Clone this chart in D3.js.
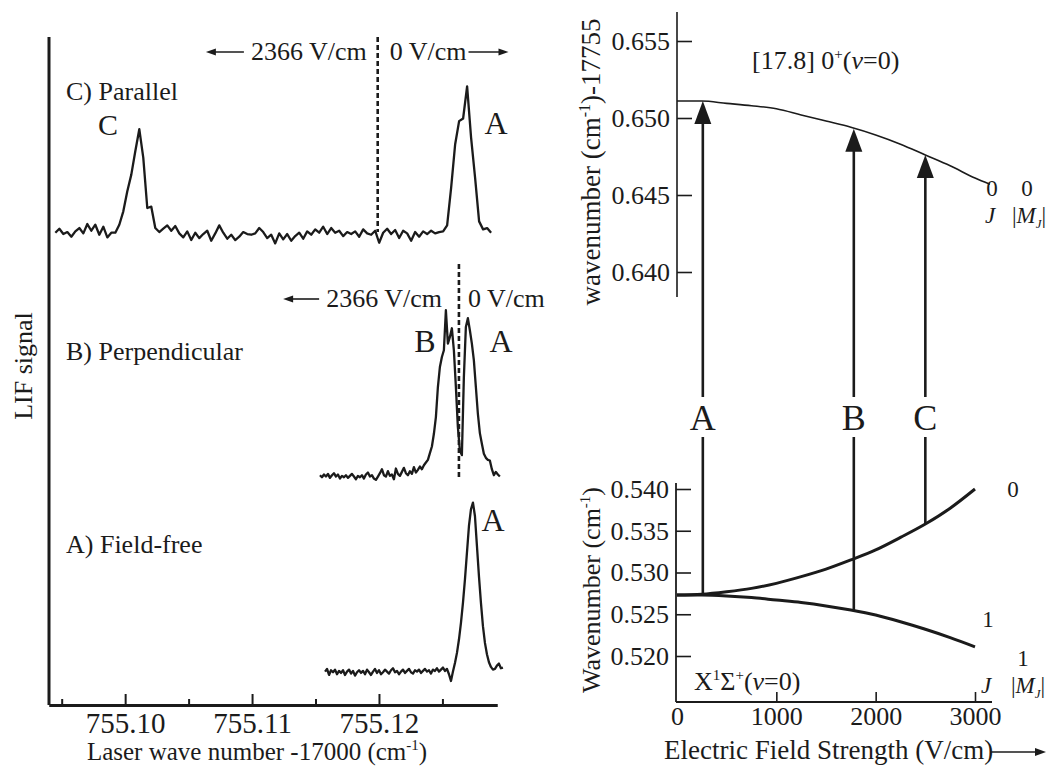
<!DOCTYPE html>
<html><head><meta charset="utf-8">
<script src="https://cdn.jsdelivr.net/npm/d3@7"></script>
<style>
html,body{margin:0;padding:0;background:#fff;}
svg{display:block;}
text{font-family:"Liberation Serif","Times New Roman",serif;fill:#1b1b1b;}
</style></head><body>
<svg id="fig" width="1049" height="769"></svg>
<script>
// ---------- LIF spectra (laser wave number - 17000 cm^-1) ----------
const specMajorTicks = [755.10, 755.11, 755.12];
const specMinorTicks = [755.095, 755.105, 755.115, 755.125];
const specTickLabels = ["755.10", "755.11", "755.12"];

// C) parallel field: scan start, scan step, signal above baseline
const parallelStart = 755.0945, parallelStep = 0.000315, parallelBase = 70.4;
const parallelSignal = [
  0.3, 0.9, 0.1, 0.4, -0.3, 0.5, 1.0, 0.2, 1.6, 0.6, 1.5, 0.0, 1.2, -0.4, 0.3,
  0.3, 1.5, 3.5, 6.5, 9.0, 12.5, 15.8, 11.5, 4.0, 4.2, 1.0, 0.4,
  0.9, 1.4, 0.6, 1.3, 0.2, -0.4, 0.5, -0.8, 0.3, -0.5,
  0.1, 0.6, -0.9, 0.2, 1.4, 0.3, -0.6, 0.0, -0.8, -0.3,
  0.4, 0.1, 0.0, 0.2, 1.0, 0.4, -0.5, 0.0, -1.3, 0.2,
  -0.7, 0.1, -0.9, -0.2, 0.3, -0.6, 0.5, 0.0, 0.8, 0.3,
  1.2, 0.1, 1.0, 0.3, 0.6, -0.2, 0.4, 0.1, 0.5, -0.3,
  0.8, 0.2, 0.0, 0.6, -1.2, 0.3, 0.9, 0.1, 0.7, -0.5,
  0.6, 0.2, -0.9, 0.4, -0.3, 0.5, 0.1, 0.6, 0.2,
  0.4, 0.5, 1.4, 7.0, 13.5, 17.0, 17.4, 22.2, 14.5, 8.5, 2.0, 0.8, 1.0, 0.3
];

// B) perpendicular field
const perpStart = 755.11535, perpStep = 0.0001575, perpBase = 34.1;
const perpSignal = [
  0.3, 0.0, 0.4, 0.1, 0.5, -0.1, 0.3, 0.6, 0.1, 0.4,
  -0.2, 0.2, 0.0, 0.3, -0.1, 0.2, 0.5, 0.1, -0.3, 0.2,
  0.0, 0.3, -0.2, 0.4, 0.7, 0.1, 0.3, -0.2, -0.4, 0.1,
  0.6, 1.2, 0.3, 0.1, 0.9, 0.2, 0.4, -0.3, 1.3, 0.5,
  0.2, 0.8, 1.4, 0.6, 0.3, 0.9, 0.5, 1.5, 0.7, 1.1,
  1.6, 1.2, 1.8,
  2.2, 2.6, 3.6, 4.6, 6.5, 9.0, 13.5, 16.5, 18.0, 19.0,
  25.0, 20.0, 21.0, 22.3, 19.0, 13.5, 7.5, 4.0, 3.3, 15.0,
  22.5, 23.8, 22.0, 20.0, 17.5, 13.5, 9.5, 6.6, 5.0, 3.5,
  2.9, 2.6, 2.5, 1.2, 0.3, 0.8, 0.4, 0.1
];

// A) field-free
const freeStart = 755.11575, freeStep = 0.0001575, freeBase = 4.8;
const freeSignal = [
  0.2, 0.6, -0.3, 0.4, 0.1, 0.5, -0.2, 0.3, 0.0, 0.4,
  -0.3, 0.2, 0.5, -0.1, 0.3, -0.4, 0.1, 0.4, 0.0, 0.3,
  -0.2, 0.5, 0.1, -0.3, 0.2, 0.6, 0.0, 0.4, -0.2, 0.1,
  0.5, 0.2, -0.1, 0.4, 0.7, 0.1, 0.3, -0.2, 0.2, 0.5,
  0.0, 0.3, 0.6, 0.1, -0.1, 0.4, 0.2, 0.5, 0.0, 0.3,
  0.6, 0.2, 0.4, -0.1, 0.5, 0.3, 0.7, 0.2, 0.5, 0.8,
  0.3, 0.6, -0.2, -1.2,
  0.2, 1.5, 3.0, 5.0, 7.5, 10.5, 14.0, 18.0, 22.0, 24.5,
  25.5, 23.5, 19.0, 14.5, 10.5, 7.0, 4.5, 2.8, 1.6, 0.9,
  0.5, 0.6, 1.1, 1.4, 0.7, 0.8
];

// field boundaries (2366 V/cm | 0 V/cm) in the two field scans
const boundaryParallel = 755.1199, boundaryPerp = 755.1263;

// ---------- Stark shifts vs electric field ----------
const fieldTicks = [0, 1000, 2000, 3000];
const upperTicks = [0.640, 0.645, 0.650, 0.655];
const lowerTicks = [0.520, 0.525, 0.530, 0.535, 0.540];

// [17.8] 0+ (v=0), J=0 |MJ|=0 (wavenumber - 17755 cm^-1)
const upperField = [0, 250, 500, 750, 1000, 1250, 1500, 1750, 2000, 2250, 2500, 2750, 3000, 3150];
const upperLevel = [0.6511, 0.6511, 0.65095, 0.6508, 0.6506, 0.6502, 0.6498, 0.6494, 0.6489, 0.6483, 0.6476, 0.6469, 0.6461, 0.6457];

// X1Sigma+ (v=0), J=1 sub-levels
const groundField = [0, 250, 500, 750, 1000, 1250, 1500, 1750, 2000, 2250, 2500, 2750, 3000];
const groundM0 = [0.5273, 0.5274, 0.5277, 0.5281, 0.5287, 0.5295, 0.5304, 0.5315, 0.5327, 0.5342, 0.5358, 0.5377, 0.5400];
const groundM1 = [0.5273, 0.5273, 0.5272, 0.5270, 0.5267, 0.5264, 0.5260, 0.5255, 0.5249, 0.5241, 0.5232, 0.5222, 0.5211];

// observed transitions
const transLabels = ["A", "B", "C"];
const transField = [260, 1780, 2500];
const transLower = [0.5274, 0.5254, 0.5358];
const transUpper = [0.6511, 0.6493, 0.6476];

// ===================================================================
const svg = d3.select("#fig");
const ink = "#1b1b1b";
const serif = "'Liberation Serif','Times New Roman',serif";

// ---------------- left panel: spectra ----------------
const xS = d3.scaleLinear().domain([755.094, 755.1293]).range([49, 497]);
const yS = d3.scaleLinear().domain([0, 100]).range([705, 37]);

const left = svg.append("g");

// axes frame
left.append("line").attr("x1", 49).attr("x2", 49).attr("y1", yS(100)).attr("y2", yS(0))
  .attr("stroke", ink).attr("stroke-width", 3);

const xAxisMajor = d3.axisBottom(xS).tickValues(specMajorTicks)
  .tickFormat((d, i) => specTickLabels[i]).tickSizeInner(-11).tickSizeOuter(0).tickPadding(7);
const xAxisMinor = d3.axisBottom(xS).tickValues(specMinorTicks)
  .tickFormat("").tickSizeInner(-6).tickSizeOuter(0);

const gxm = left.append("g").attr("transform", `translate(0,${yS(0)})`).call(xAxisMajor);
const gxn = left.append("g").attr("transform", `translate(0,${yS(0)})`).call(xAxisMinor);
[gxm, gxn].forEach(g => {
  g.attr("font-family", serif);
  g.select(".domain").attr("stroke", ink).attr("stroke-width", 3);
  g.selectAll(".tick line").attr("stroke", ink).attr("stroke-width", 2);
});
gxm.selectAll(".tick text").attr("font-size", 29).attr("fill", ink).style("font-family", serif);

// axis titles
const xt = left.append("text").attr("x", 257).attr("y", 760).attr("text-anchor", "middle").attr("font-size", 25);
xt.append("tspan").text("Laser wave number -17000 (cm");
xt.append("tspan").attr("dy", -10).attr("font-size", 15).text("-1");
xt.append("tspan").attr("dy", 10).text(")");

left.append("text").attr("transform", "translate(32,366) rotate(-90)")
  .attr("text-anchor", "middle").attr("font-size", 26).text("LIF signal");

// traces
const specLine = d3.line().x(d => xS(d[0])).y(d => yS(d[1]));
const traces = [
  {start: parallelStart, step: parallelStep, base: parallelBase, values: parallelSignal},
  {start: perpStart, step: perpStep, base: perpBase, values: perpSignal},
  {start: freeStart, step: freeStep, base: freeBase, values: freeSignal}
];
traces.forEach(t => {
  const pts = t.values.map((v, i) => [t.start + i * t.step, t.base + v]);
  left.append("path").attr("d", specLine(pts)).attr("fill", "none")
    .attr("stroke", ink).attr("stroke-width", 2.3).attr("stroke-linejoin", "round");
});

// field boundary markers
function dashed(xv, y0, y1) {
  left.append("line").attr("x1", xS(xv)).attr("x2", xS(xv))
    .attr("y1", yS(y0)).attr("y2", yS(y1))
    .attr("stroke", ink).attr("stroke-width", 2.6).attr("stroke-dasharray", "5,3");
}
dashed(boundaryParallel, 100, parallelBase + 0.4);
dashed(boundaryPerp, 66, perpBase - 0.4);

// small horizontal arrows
function hArrow(g, x1, x2, y, head = 10, half = 3.5, w = 1.6) {
  const dir = Math.sign(x2 - x1);
  g.append("line").attr("x1", x1).attr("x2", x2 - dir * head * 0.6).attr("y1", y).attr("y2", y)
    .attr("stroke", ink).attr("stroke-width", w);
  g.append("path").attr("d", `M${x2},${y}L${x2 - dir * head},${y - half}L${x2 - dir * head},${y + half}Z`)
    .attr("fill", ink);
}

function fieldNote(bx, baseY, gapL, gapR, arrowL, arrowR) {
  const bxPx = xS(bx);
  const t1 = left.append("text").attr("x", bxPx - gapL).attr("y", baseY)
    .attr("text-anchor", "end").attr("font-size", 26).text("2366 V/cm");
  const t2 = left.append("text").attr("x", bxPx + gapR).attr("y", baseY)
    .attr("font-size", 26).text("0 V/cm");
  const w1 = t1.node().getComputedTextLength();
  const w2 = t2.node().getComputedTextLength();
  const ay = baseY - 8;
  hArrow(left, bxPx - gapL - w1 - 7, bxPx - gapL - w1 - 7 - arrowL, ay);
  if (arrowR > 0) hArrow(left, bxPx + gapR + w2 + 2, bxPx + gapR + w2 + 2 + arrowR, ay);
}
fieldNote(boundaryParallel, 60, 11, 12, 38, 40);
fieldNote(boundaryPerp, 307, 17, 9, 36, 0);

// panel and peak labels
const lab = (x, y, s, size, anchor = "start") =>
  left.append("text").attr("x", x).attr("y", y).attr("font-size", size).attr("text-anchor", anchor).text(s);
lab(66, 100, "C) Parallel", 26);
lab(108, 135, "C", 30, "middle");
lab(496, 134, "A", 32, "middle");
lab(66, 360, "B) Perpendicular", 26);
lab(425, 352, "B", 32, "middle");
lab(501, 352, "A", 32, "middle");
lab(66, 553, "A) Field-free", 26);
lab(493, 531, "A", 32, "middle");

// ---------------- right panel: energy levels ----------------
const right = svg.append("g");
const xF = d3.scaleLinear().domain([0, 3000]).range([677, 975]);
const yU = d3.scaleLinear().domain([0.640, 0.650]).range([272, 118]);
const yG = d3.scaleLinear().domain([0.520, 0.540]).range([656, 489]);

// upper state axis
right.append("line").attr("x1", 677).attr("x2", 677).attr("y1", 12).attr("y2", 297)
  .attr("stroke", ink).attr("stroke-width", 1.6);
const gU = right.append("g").attr("transform", "translate(677,0)")
  .call(d3.axisLeft(yU).tickValues(upperTicks).tickFormat(d3.format(".3f"))
    .tickSizeInner(-15).tickSizeOuter(0).tickPadding(7));
gU.select(".domain").remove();

// ground state axes
right.append("line").attr("x1", 676).attr("x2", 676).attr("y1", 483).attr("y2", 702)
  .attr("stroke", ink).attr("stroke-width", 1.8);
right.append("line").attr("x1", 676).attr("x2", 992).attr("y1", 702).attr("y2", 702)
  .attr("stroke", ink).attr("stroke-width", 1.8);
const gG = right.append("g").attr("transform", "translate(676,0)")
  .call(d3.axisLeft(yG).tickValues(lowerTicks).tickFormat(d3.format(".3f"))
    .tickSizeInner(-15).tickSizeOuter(0).tickPadding(7));
gG.select(".domain").remove();
const gF = right.append("g").attr("transform", "translate(0,702)")
  .call(d3.axisBottom(xF).tickValues(fieldTicks).tickFormat(d3.format("d"))
    .tickSizeInner(-10).tickSizeOuter(0).tickPadding(5));
gF.select(".domain").remove();
gF.selectAll(".tick").filter(d => d === 0).select("line").remove();

[gU, gG, gF].forEach(g => {
  g.attr("font-family", serif);
  g.selectAll(".tick line").attr("stroke", ink).attr("stroke-width", 1.6);
  g.selectAll(".tick text").attr("font-size", 26).attr("fill", ink).style("font-family", serif);
});

// axis titles
const yt1 = right.append("text").attr("transform", "translate(600,162) rotate(-90)")
  .attr("text-anchor", "middle").attr("font-size", 27);
yt1.append("tspan").text("wavenumber (cm");
yt1.append("tspan").attr("dy", -10).attr("font-size", 16).text("-1");
yt1.append("tspan").attr("dy", 10).text(")-17755");

const yt2 = right.append("text").attr("transform", "translate(600,590) rotate(-90)")
  .attr("text-anchor", "middle").attr("font-size", 26);
yt2.append("tspan").text("Wavenumber (cm");
yt2.append("tspan").attr("dy", -10).attr("font-size", 15).text("-1");
yt2.append("tspan").attr("dy", 10).text(")");

const ft = right.append("text").attr("x", 664).attr("y", 759).attr("font-size", 27)
  .text("Electric Field Strength (V/cm)");
const ftEnd = 664 + ft.node().getComputedTextLength();
hArrow(right, ftEnd - 2, 1046, 752, 11, 4, 1.6);

// state labels
const st = right.append("text").attr("x", 752).attr("y", 69).attr("font-size", 26);
st.append("tspan").text("[17.8] 0");
st.append("tspan").attr("dy", -10).attr("font-size", 15).text("+");
st.append("tspan").attr("dy", 10).text("(");
st.append("tspan").attr("font-style", "italic").text("v");
st.append("tspan").text("=0)");

const gs = right.append("text").attr("x", 694).attr("y", 690).attr("font-size", 26);
gs.append("tspan").text("X");
gs.append("tspan").attr("dy", -10).attr("font-size", 15).text("1");
gs.append("tspan").attr("dy", 10).text("Σ");
gs.append("tspan").attr("dy", -10).attr("font-size", 15).text("+");
gs.append("tspan").attr("dy", 10).text("(");
gs.append("tspan").attr("font-style", "italic").text("v");
gs.append("tspan").text("=0)");

const qSize = 23;
function qn(x, y, s) {
  right.append("text").attr("x", x).attr("y", y).attr("font-size", qSize)
    .attr("text-anchor", "middle").text(s);
}
function jm(xJ, xM, y) {
  right.append("text").attr("x", xJ).attr("y", y).attr("font-size", qSize)
    .attr("text-anchor", "middle").attr("font-style", "italic").text("J");
  const t = right.append("text").attr("x", xM).attr("y", y).attr("font-size", qSize)
    .attr("text-anchor", "middle");
  t.append("tspan").text("|");
  t.append("tspan").attr("font-style", "italic").text("M");
  t.append("tspan").attr("dy", 5).attr("font-size", 13).attr("font-style", "italic").text("J");
  t.append("tspan").attr("dy", -5).text("|");
}
qn(992, 196, "0"); qn(1027, 196, "0"); jm(990, 1029, 223);
qn(1013, 497, "0"); qn(988, 627, "1"); qn(1023, 666, "1"); jm(986, 1028, 693);

// level curves
const upLine = d3.line().curve(d3.curveMonotoneX).x((d, i) => xF(upperField[i])).y(d => yU(d));
right.append("path").attr("d", upLine(upperLevel)).attr("fill", "none")
  .attr("stroke", ink).attr("stroke-width", 1.6);
const gLine = d3.line().curve(d3.curveMonotoneX).x((d, i) => xF(groundField[i])).y(d => yG(d));
[groundM0, groundM1].forEach(arr => {
  right.append("path").attr("d", gLine(arr)).attr("fill", "none")
    .attr("stroke", ink).attr("stroke-width", 3);
});

// transitions: lower segment, label, upper arrow
const labelBase = 430, lowerTop = 437, upperBottom = 397;
transLabels.forEach((L, i) => {
  const x = xF(transField[i]);
  right.append("line").attr("x1", x).attr("x2", x).attr("y1", yG(transLower[i])).attr("y2", lowerTop)
    .attr("stroke", ink).attr("stroke-width", 2.6);
  const tip = yU(transUpper[i]);
  right.append("line").attr("x1", x).attr("x2", x).attr("y1", upperBottom).attr("y2", tip + 18)
    .attr("stroke", ink).attr("stroke-width", 2.6);
  right.append("path").attr("d", `M${x},${tip}L${x - 8.5},${tip + 23}L${x + 8.5},${tip + 23}Z`)
    .attr("fill", ink);
  right.append("text").attr("x", x).attr("y", labelBase).attr("text-anchor", "middle")
    .attr("font-size", 36).text(L);
});
</script>
</body></html>
